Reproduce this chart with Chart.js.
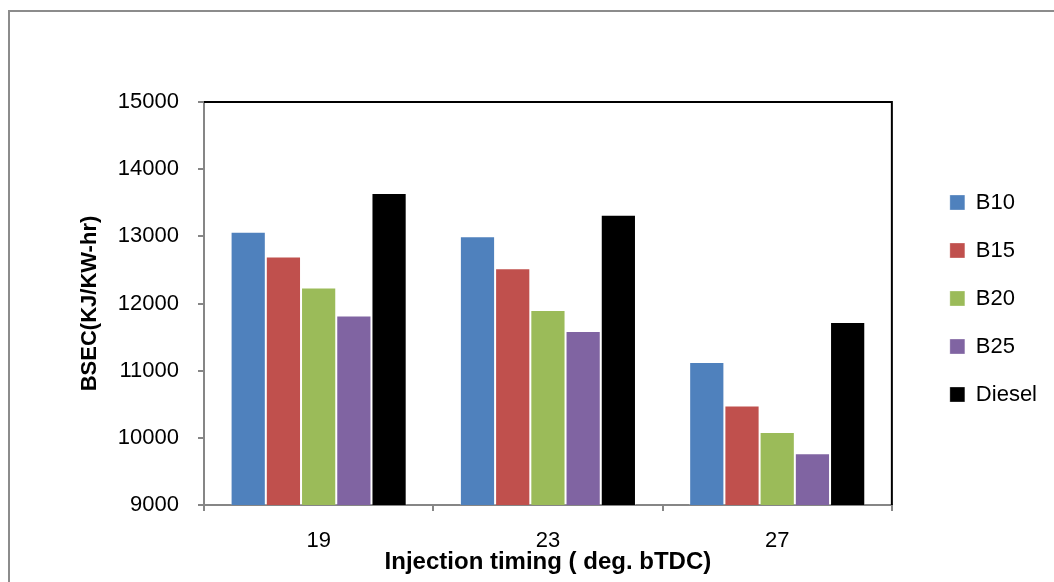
<!DOCTYPE html>
<html>
<head>
<meta charset="utf-8">
<script src="https://cdn.jsdelivr.net/npm/chart.js@4"></script>
<style>
  html, body { margin: 0; padding: 0; background: #ffffff; }
  #wrap { width: 1054px; height: 582px; position: relative; }
</style>
</head>
<body>
<div id="wrap"><canvas id="c" width="1054" height="582"></canvas></div>
<script>
// Injection timing categories (deg. bTDC)
const categories = ['19', '23', '27'];

// Brake specific energy consumption, KJ/KW-hr
const b10    = [13070, 13000, 11130];
const b15    = [12700, 12525, 10480];
const b20    = [12240, 11905, 10085];
const b25    = [11820, 11590, 9770];
const diesel = [13645, 13320, 11725];

// Value axis ticks
const yTicks = [9000, 10000, 11000, 12000, 13000, 14000, 15000];

const seriesNames  = ['B10', 'B15', 'B20', 'B25', 'Diesel'];
const seriesValues = [b10, b15, b20, b25, diesel];
const seriesColors = ['#4F81BD', '#C0504D', '#9BBB59', '#8064A2', '#000000'];

const FONT = "'Liberation Sans', Arial, sans-serif";
const AXIS_GRAY = '#868686';

// Outer chart frame plus the black top/right edges of the plot area
const framePlugin = {
  id: 'frame',
  afterLayout(chart) {
    // nudge the legend block slightly upward and left
    const lg = chart.legend;
    if (lg) {
      lg.top -= 5; lg.bottom -= 5;
      lg.left -= 2; lg.right -= 2;
    }
  },
  beforeDraw(chart) {
    const ctx = chart.ctx;
    ctx.save();
    ctx.fillStyle = '#ffffff';
    ctx.fillRect(0, 0, chart.width, chart.height);
    ctx.strokeStyle = '#8c8c8c';
    ctx.lineWidth = 2;
    ctx.strokeRect(9, 11, chart.width + 20, chart.height + 20);
    ctx.restore();
  },
  afterDraw(chart) {
    const {ctx, chartArea: a} = chart;
    ctx.save();
    ctx.strokeStyle = '#000000';
    ctx.lineWidth = 2;
    ctx.beginPath();
    ctx.moveTo(a.left, a.top);
    ctx.lineTo(a.right, a.top);
    ctx.lineTo(a.right, a.bottom);
    ctx.stroke();
    ctx.restore();
  }
};

new Chart(document.getElementById('c'), {
  type: 'bar',
  data: {
    labels: categories,
    datasets: seriesNames.map((name, i) => ({
      label: name,
      data: seriesValues[i],
      backgroundColor: seriesColors[i],
      borderColor: 'rgba(255,255,255,0.3)',
      borderWidth: 1,
      barPercentage: 1.0,
      categoryPercentage: 0.768,
      yAxisID: 'y'
    }))
  },
  options: {
    responsive: false,
    animation: false,
    devicePixelRatio: 1,
    layout: { padding: { top: 102, left: 0, right: 5, bottom: 0 } },
    plugins: {
      tooltip: { enabled: false },
      legend: {
        position: 'right',
        fullSize: false,
        align: 'center',
        labels: {
          boxWidth: 15,
          boxHeight: 15,
          padding: 26,
          color: '#000000',
          font: { family: FONT, size: 22 }
        }
      }
    },
    scales: {
      x: {
        grid: { drawOnChartArea: false, drawTicks: true, tickLength: 6, color: AXIS_GRAY, lineWidth: 2 },
        border: { color: AXIS_GRAY, width: 2 },
        ticks: { color: '#000000', padding: 17, font: { family: FONT, size: 22 } },
        title: {
          display: true,
          text: 'Injection timing ( deg. bTDC)',
          color: '#000000',
          font: { family: FONT, size: 24, weight: 'bold' },
          padding: { top: 0, bottom: 5 }
        },
        afterFit(scale) { scale.height = 77; }
      },
      y: {
        min: 9000,
        max: 15000,
        afterBuildTicks(scale) { scale.ticks = yTicks.map(v => ({ value: v })); },
        grid: { drawOnChartArea: false, drawTicks: true, tickLength: 6, color: AXIS_GRAY, lineWidth: 2 },
        border: { color: AXIS_GRAY, width: 2 },
        ticks: {
          color: '#000000',
          padding: 19,
          font: { family: FONT, size: 22 },
          callback: (v) => String(v)
        },
        title: {
          display: true,
          text: 'BSEC(KJ/KW-hr)',
          color: '#000000',
          font: { family: FONT, size: 22, weight: 'bold' },
          padding: { top: 77, bottom: 0 }
        },
        afterFit(scale) { scale.width = 204; }
      },
      yRight: {
        position: 'right',
        display: true,
        grid: { display: false },
        border: { display: false },
        ticks: { display: false },
        afterFit(scale) { scale.width = 34; }
      }
    }
  },
  plugins: [framePlugin]
});
</script>
</body>
</html>
